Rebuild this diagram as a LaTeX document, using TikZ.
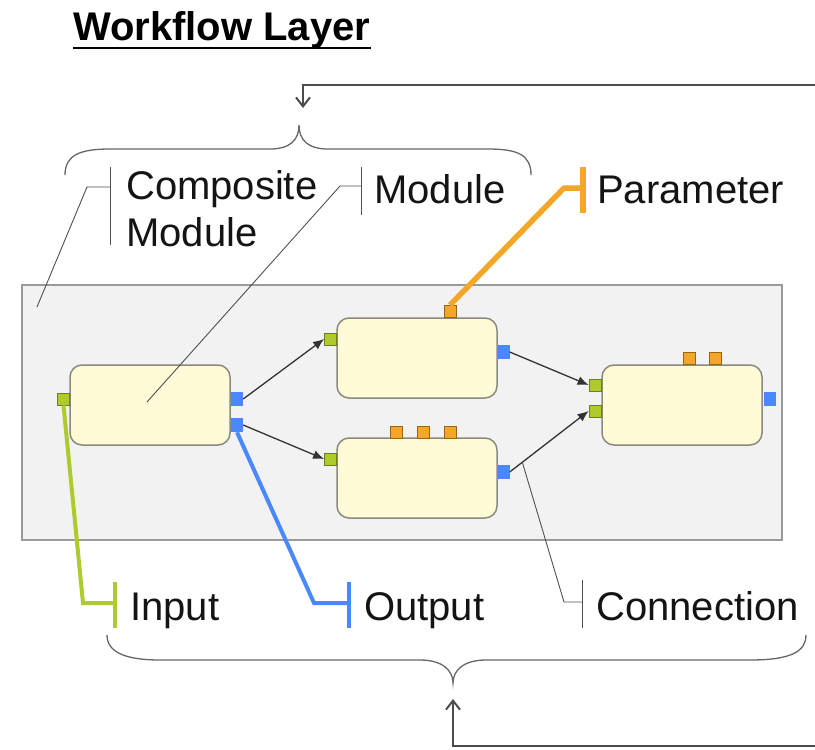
\documentclass[tikz,border=0pt]{standalone}
\usepackage{fontspec}
\setmainfont{Liberation Sans}
\usetikzlibrary{arrows.meta}
\definecolor{panelfill}{HTML}{F2F2F2}
\definecolor{panelline}{HTML}{9A9A9A}
\definecolor{modfill}{HTML}{FEFBD6}
\definecolor{modline}{HTML}{8A8A80}
\definecolor{ingreen}{HTML}{ADCB2D}
\definecolor{ingreenline}{HTML}{6B7F1A}
\definecolor{outblue}{HTML}{4A88FF}
\definecolor{parorange}{HTML}{F4A628}
\definecolor{parorangeline}{HTML}{9A6410}
\definecolor{leadgray}{HTML}{505050}
\tikzset{
  panel/.style={draw=panelline, fill=panelfill, line width=1.8pt, minimum width=760pt, minimum height=255pt, inner sep=0pt},
  module/.style={draw=modline, fill=modfill, line width=1.5pt, rounded corners=12pt, minimum width=160pt, minimum height=80pt, inner sep=0pt},
  inport/.style={draw=ingreenline, fill=ingreen, line width=0.8pt, minimum width=12pt, minimum height=12pt, inner sep=0pt},
  outport/.style={fill=outblue, minimum width=12pt, minimum height=14pt, inner sep=0pt},
  param/.style={draw=parorangeline, fill=parorange, line width=0.8pt, minimum width=12pt, minimum height=12pt, inner sep=0pt},
  flow/.style={draw=black!80, line width=1.3pt, -{Latex[length=11pt,width=9pt]}},
  lbl/.style={font=\fontsize{40}{47}\selectfont, inner sep=0pt, text=black!92},
  lead/.style={draw=leadgray, line width=0.9pt},
  brace/.style={draw=black!60, line width=1.3pt},
  feed/.style={draw=black!70, line width=2pt},
}
\begin{document}
\begin{tikzpicture}[x=1pt,y=-1pt]
\useasboundingbox (0,0) rectangle (815,750);

% title
\node[font=\bfseries\fontsize{40}{47}\selectfont, inner sep=0pt, anchor=base west] (title) at (73,40) {Workflow Layer};
\draw[line width=2.5pt] ([yshift=-8pt]title.base west) -- ([yshift=-8pt]title.base east);

% panel (composite module)
\node[panel] (P) at (402,412.5) {};

% modules
\node[module] (A) at (150,405) {};
\node[module] (B) at (417,358) {};
\node[module] (C) at (417,478) {};
\node[module] (D) at (682,405) {};

% ports
\node[inport] (Ain) at (63.5,399) {};
\node[outport] (Aout1) at (237,399) {};
\node[outport] (Aout2) at (237,425) {};
\node[inport] (Bin) at (330.5,339) {};
\node[outport] (Bout) at (503.5,352) {};
\node[param] (Bp) at (450,311.5) {};
\node[inport] (Cin) at (330.5,459) {};
\node[outport] (Cout) at (503.5,472) {};
\node[param] (Cp1) at (396,432) {};
\node[param] (Cp2) at (423,432) {};
\node[param] (Cp3) at (450,432) {};
\node[inport] (Din1) at (595,385) {};
\node[inport] (Din2) at (595,411) {};
\node[outport] (Dout) at (769.5,399) {};
\node[param] (Dp1) at (689,358.5) {};
\node[param] (Dp2) at (715,358.5) {};

% connections
\draw[flow] (Aout1.east) -- (Bin.west);
\draw[flow] (Aout2.east) -- (Cin.west);
\draw[flow] (Bout.east) -- (Din1.west);
\draw[flow] (Cout.east) -- coordinate[pos=0.16] (cm) (Din2.west);

% label: Composite Module
\coordinate (cmpEnd) at (37,307);
\draw[lead] (cmpEnd) -- (87,187) -- (110,187);
\draw[lead] (110,167) -- (110,245);
\node[lbl, anchor=north west, align=left] (tComp) at (126,170) {Composite\\Module};

% label: Module
\coordinate (modEnd) at (147,402);
\draw[lead] (modEnd) -- (340,186) -- (361,186);
\draw[lead] (361,167) -- (361,215);
\node[lbl, anchor=base west] (tMod) at (374,203) {Module};

% label: Parameter
\draw[parorange, line width=5.5pt, line join=round] (Bp.north) -- (564,188) -- (583,188);
\draw[parorange, line width=5.5pt] (583,167) -- (583,213);
\node[lbl, anchor=base west] (tPar) at (597,203) {Parameter};

% label: Input
\draw[ingreen, line width=4pt] (Ain.south) -- (83,603) -- (115,603);
\draw[ingreen, line width=4pt] (115,582) -- (115,628);
\node[lbl, anchor=base west] (tIn) at (130,620) {Input};

% label: Output
\draw[outblue, line width=4pt] (Aout2.south) -- (314,603) -- (349,603);
\draw[outblue, line width=4pt] (349,582) -- (349,628);
\node[lbl, anchor=base west] (tOut) at (364,620) {Output};

% label: Connection
\draw[lead] (cm) -- (564,602) -- (582,602);
\draw[lead] (582,580) -- (582,628);
\node[lbl, anchor=base west] (tCon) at (596,620) {Connection};

% top brace
\draw[brace] (65,175) .. controls (65,155) and (80,149) .. (110,149) -- (270,149)
  .. controls (290,149) and (299,140) .. (299,125)
  .. controls (299,140) and (308,149) .. (328,149) -- (488,149)
  .. controls (518,149) and (531,155) .. (531,175);
% bottom brace
\draw[brace] (107,635) .. controls (107,652) and (125,660) .. (160,660) -- (420,660)
  .. controls (442,660) and (453,670) .. (453,683)
  .. controls (453,670) and (464,660) .. (486,660) -- (750,660)
  .. controls (790,660) and (806,652) .. (806,635);

% feedback arrows
\coordinate (topR) at (815,85);
\coordinate (topTip) at (303,108);
\draw[feed, -{Straight Barb[length=9pt,width=14pt]}] (topR) -| (topTip);
\coordinate (botR) at (815,746);
\coordinate (botTip) at (453,699);
\draw[feed, -{Straight Barb[length=9pt,width=14pt]}] (botR) -| (botTip);
\end{tikzpicture}
\end{document}
